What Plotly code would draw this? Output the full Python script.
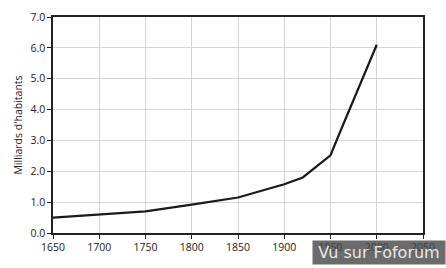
import plotly.graph_objects as go

years = [1650, 1750, 1800, 1850, 1900, 1920, 1950, 1960, 2000]
population = [0.50, 0.70, 0.92, 1.15, 1.58, 1.80, 2.52, 3.25, 6.10]

x_ticks = [1650, 1700, 1750, 1800, 1850, 1900, 1950, 2000, 2050]
y_ticks = [0, 1, 2, 3, 4, 5, 6, 7]
y_labels = ["0.0", "1.0", "2.0", "3.0", "4.0", "5.0", "6.0", "7.0"]

fig = go.Figure()
fig.add_trace(go.Scatter(x=years, y=population, mode="lines",
                         line=dict(color="#1a1a1a", width=2.2), showlegend=False))

font = dict(family="Open Sans, Liberation Sans, sans-serif", size=10.5, color="#222")
fig.update_layout(
    width=446, height=268,
    margin=dict(l=53, r=23, t=10, b=35),
    plot_bgcolor="white", paper_bgcolor="white",
    font=font,
    xaxis=dict(range=[1650, 2050], tickvals=x_ticks, showgrid=True, gridcolor="#d4d4d4",
               gridwidth=1, showline=True, linecolor="#222", linewidth=1.5, mirror=True,
               ticks="outside", ticklen=4, tickcolor="#222", zeroline=False),
    yaxis=dict(range=[0, 7], tickvals=y_ticks, ticktext=y_labels, showgrid=True,
               gridcolor="#d4d4d4", gridwidth=1, showline=True, linecolor="#222",
               linewidth=1.5, mirror=True, ticks="outside", ticklen=4, tickcolor="#222",
               zeroline=False,
               title=dict(text="Milliards d'habitants", standoff=6, font=dict(size=10.5))),
    annotations=[dict(x=1, y=0, xref="paper", yref="paper", xanchor="right", yanchor="top",
                      yshift=-7, xshift=23, text="Vu sur Foforum", showarrow=False,
                      bgcolor="rgba(70,70,70,0.8)", font=dict(size=16, color="#e8e8e8",
                      family="DejaVu Sans, sans-serif"), borderpad=2, width=128)]
)
fig.write_html("out.html")
